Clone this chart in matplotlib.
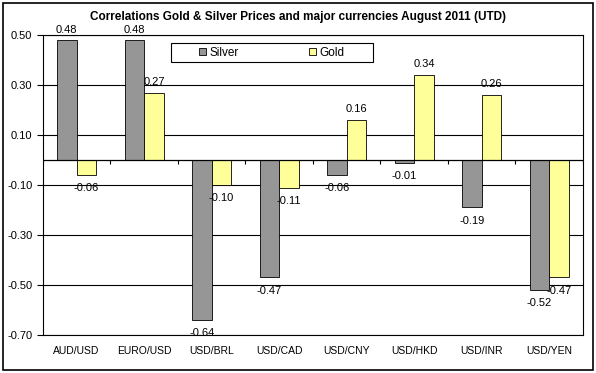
import matplotlib
matplotlib.use('Agg')
import matplotlib.pyplot as plt
import matplotlib.patches as mpatches
import numpy as np

plt.rcParams['font.family'] = ['Liberation Sans', 'DejaVu Sans']

currencies = ['AUD/USD', 'EURO/USD', 'USD/BRL', 'USD/CAD', 'USD/CNY', 'USD/HKD', 'USD/INR', 'USD/YEN']
silver = [0.48, 0.48, -0.64, -0.47, -0.06, -0.01, -0.19, -0.52]
gold = [-0.06, 0.27, -0.10, -0.11, 0.16, 0.34, 0.26, -0.47]
yticks = [0.50, 0.30, 0.10, -0.10, -0.30, -0.50, -0.70]

fig = plt.figure(figsize=(5.96, 3.73), dpi=100)
ax = fig.add_axes([0.072, 0.102, 0.906, 0.804])

# outer chart border
fig.patches.append(mpatches.Rectangle((0.005, 0.008), 0.99, 0.984, transform=fig.transFigure,
                                      fill=False, edgecolor='black', linewidth=1.2))

x = np.arange(len(currencies))
w = 0.29
ax.bar(x - w / 2, silver, w, color='#969696', edgecolor='black', linewidth=0.6, label='Silver', zorder=3)
ax.bar(x + w / 2, gold, w, color='#FFFF99', edgecolor='black', linewidth=0.6, label='Gold', zorder=3)

# value labels
def label_bars(xs, vals):
    for xi, v in zip(xs, vals):
        ax.annotate('%.2f' % v, (xi, v), xytext=(0, 4 if v >= 0 else -6), textcoords='offset points',
                    ha='center', va='bottom' if v >= 0 else 'top', fontsize=8)

label_bars(x - w / 2, silver)
label_bars(x + w / 2, gold)

ax.set_xlim(-0.5, len(currencies) - 0.5)
ax.set_ylim(-0.70, 0.50)
ax.set_yticks(yticks)
ax.set_yticklabels(['%.2f' % t for t in yticks], fontsize=8)
ax.tick_params(axis='y', length=4, width=0.8, direction='out')
ax.grid(axis='y', color='black', linewidth=0.8, zorder=0)

# zero axis with category-boundary ticks
ax.axhline(0, color='black', linewidth=0.9, zorder=4)
ax.vlines(np.arange(len(currencies) + 1) - 0.5, -0.015, 0, color='black', linewidth=0.8, zorder=4)

ax.set_xticks(x)
ax.set_xticklabels(currencies, fontsize=7.5)
ax.tick_params(axis='x', length=0, pad=8)

for s in ax.spines.values():
    s.set_linewidth(0.8)
    s.set_color('black')

fig.text(0.5, 0.955, 'Correlations Gold & Silver Prices and major currencies August 2011 (UTD)',
         ha='center', va='center', fontsize=8.5, fontweight='bold')

# legend box drawn separately so it can be wider than its entries
ax.add_patch(mpatches.Rectangle((0.237, 0.91), 0.374, 0.063, transform=ax.transAxes,
                                facecolor='white', edgecolor='black', linewidth=0.8, zorder=5))
leg = ax.legend(loc='center', bbox_to_anchor=(0.424, 0.9415), ncol=2, fontsize=8.5,
                frameon=False, handlelength=0.6, handleheight=0.6,
                columnspacing=5.9, handletextpad=0.3, borderpad=0.2, borderaxespad=0)
leg.set_zorder(6)

fig.savefig('out.png', dpi=100)
